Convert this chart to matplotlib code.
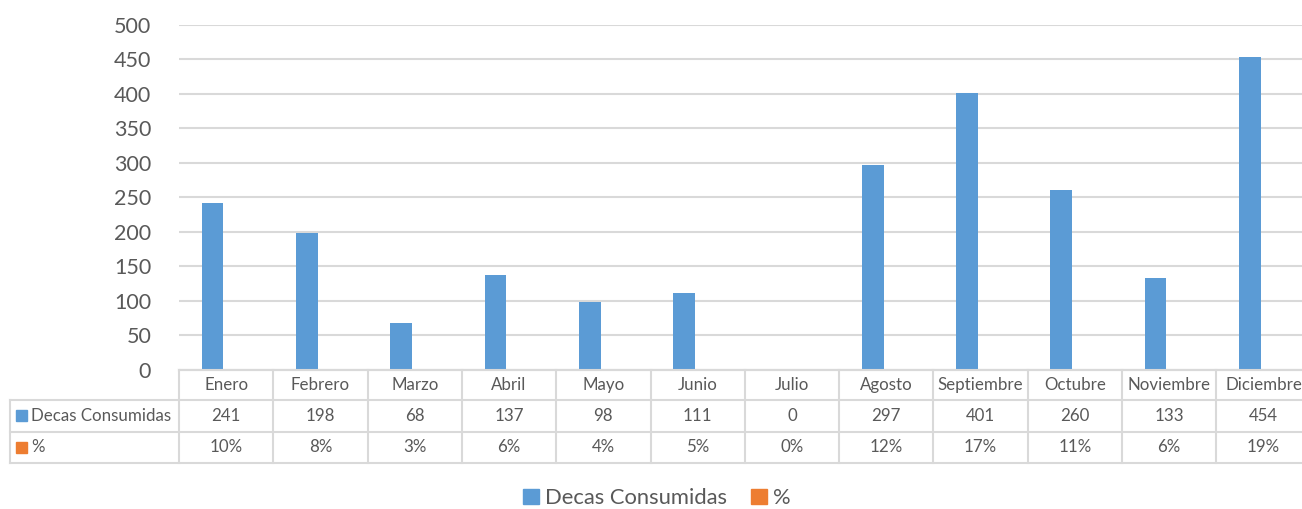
import matplotlib
matplotlib.use("Agg")
import matplotlib.pyplot as plt
from matplotlib.patches import Rectangle
from matplotlib.lines import Line2D

months = ["Enero", "Febrero", "Marzo", "Abril", "Mayo", "Junio", "Julio",
          "Agosto", "Septiembre", "Octubre", "Noviembre", "Diciembre"]
decas = [241, 198, 68, 137, 98, 111, 0, 297, 401, 260, 133, 454]
pct = [10, 8, 3, 6, 4, 5, 0, 12, 17, 11, 6, 19]
series_names = ["Decas Consumidas", "%"]
yticks = [0, 50, 100, 150, 200, 250, 300, 350, 400, 450, 500]

BLUE = "#5B9BD5"
ORANGE = "#ED7D31"
TXT = "#595959"
GRID = "#D9D9D9"

plt.rcParams['font.family'] = ['Lato', 'DejaVu Sans']

W, H = 1302, 509
fig = plt.figure(figsize=(W / 100, H / 100), dpi=100)

def fx(px):
    return px / W

def fy(py):
    return 1 - py / H

left_px, right_px = 179, 179 + 94.3 * 12
top_px, bot_px = 25, 369.5
ax = fig.add_axes([fx(left_px), fy(bot_px), fx(right_px - left_px), (bot_px - top_px) / H])

n = len(months)
xs = list(range(n))
bw = 0.23
off = 0.144
ax.bar([x - off for x in xs], decas, width=bw, color=BLUE, zorder=3)
ax.bar([x + off for x in xs], [p / 100 for p in pct], width=bw, color=ORANGE, zorder=3)

ax.set_xlim(-0.5, n - 0.5)
ax.set_ylim(0, 500)
ax.set_yticks(yticks)
ax.set_yticklabels([str(v) for v in yticks], fontsize=15.5, color=TXT)
ax.tick_params(axis='y', length=0, pad=20)
ax.tick_params(axis='x', length=0, labelbottom=False)
ax.grid(axis='y', color=GRID, linewidth=1.5, zorder=0)
for s in ["top", "right", "left"]:
    ax.spines[s].set_visible(False)
ax.spines["bottom"].set_color(GRID)
ax.spines["bottom"].set_linewidth(1.5)

# Data table
cw = (right_px - left_px) / n
row_lines = [bot_px, 400, 431.7, 462.7]
lab_left = 10
def line(x0, y0, x1, y1):
    fig.add_artist(Line2D([fx(x0), fx(x1)], [fy(y0), fy(y1)], color=GRID, lw=1.5,
                          transform=fig.transFigure))

line(left_px, row_lines[0], right_px, row_lines[0])
for yy in row_lines[1:]:
    line(lab_left, yy, right_px, yy)
for k in range(n + 1):
    line(left_px + k * cw, row_lines[0], left_px + k * cw, row_lines[3])
line(lab_left, row_lines[1], lab_left, row_lines[3])

fs_tab = 12.2
for i, m in enumerate(months):
    cx = left_px + (i + 0.5) * cw
    fig.text(fx(cx), fy((row_lines[0] + row_lines[1]) / 2), m, ha='center', va='center',
             fontsize=fs_tab, color=TXT)
    fig.text(fx(cx), fy((row_lines[1] + row_lines[2]) / 2), str(decas[i]), ha='center',
             va='center', fontsize=fs_tab, color=TXT)
    fig.text(fx(cx), fy((row_lines[2] + row_lines[3]) / 2), f"{pct[i]}%", ha='center',
             va='center', fontsize=fs_tab, color=TXT)

for r, (name, col) in enumerate(zip(series_names, [BLUE, ORANGE])):
    yc = (row_lines[1 + r] + row_lines[2 + r]) / 2
    fig.add_artist(Rectangle((fx(16), fy(yc + 5.5)), fx(11), 11 / H, color=col,
                             transform=fig.transFigure))
    fig.text(fx(31), fy(yc), name, ha='left', va='center', fontsize=fs_tab, color=TXT)

# Legend
handles = [Rectangle((0, 0), 1, 1, color=BLUE), Rectangle((0, 0), 1, 1, color=ORANGE)]
leg = fig.legend(handles, series_names, loc='center', bbox_to_anchor=(fx(657), fy(498)),
                 ncol=2, frameon=False, fontsize=15.8, handlelength=0.7, handleheight=0.7,
                 handletextpad=0.3, columnspacing=1.1, labelcolor=TXT)

fig.savefig("out.png", dpi=100)
